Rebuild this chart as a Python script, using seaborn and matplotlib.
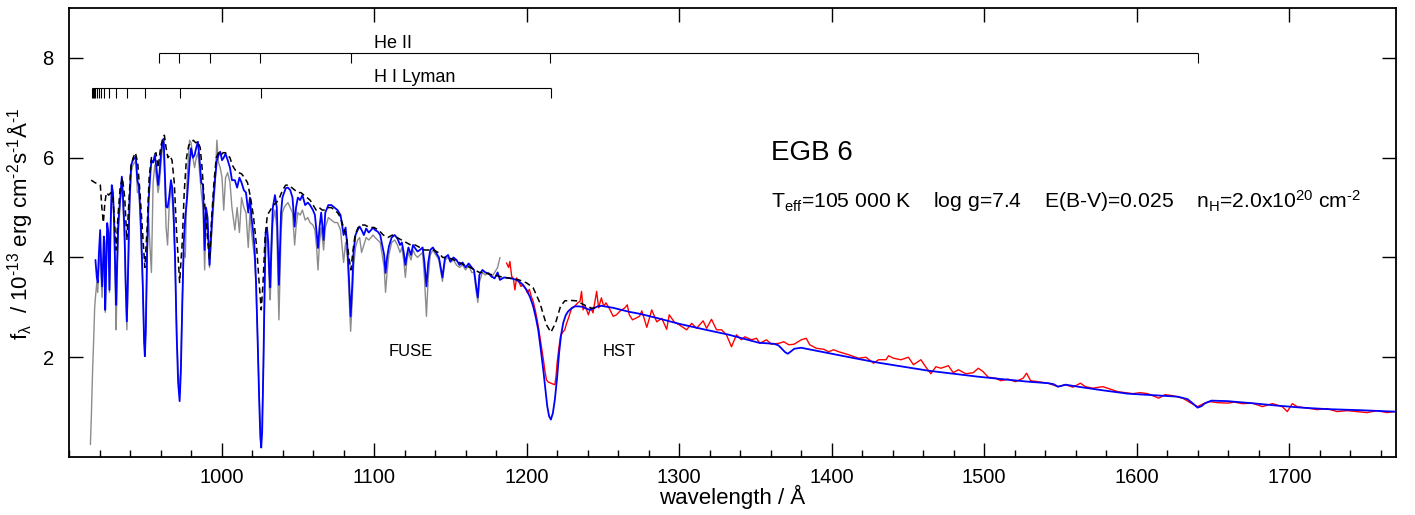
import matplotlib
matplotlib.use("Agg")
import matplotlib.pyplot as plt
import seaborn as sns
from matplotlib.ticker import MultipleLocator

# FUSE range: model (blue) and observation (grey) on one wavelength grid
fuse_wave = [917.3, 918.2, 918.8, 919.6, 920.4, 921.0, 921.7, 922.3, 922.8, 923.2,
             923.7, 924.3, 925.0, 925.8, 926.5, 927.2, 928.0, 928.8, 929.5, 930.4,
             930.9, 931.5, 932.3, 933.0, 933.8, 934.6, 935.4, 936.3, 937.2, 937.9,
             938.6, 939.6, 940.7, 941.8, 942.9, 943.8, 944.8, 945.8, 946.6, 947.4,
             948.3, 949.2, 949.7, 950.3, 951.2, 952.2, 953.1, 954.0, 955.1, 956.2,
             957.3, 958.4, 959.3, 960.3, 961.2, 962.0, 962.8, 963.6, 964.6, 965.6,
             966.8, 967.6, 968.5, 969.5, 970.5, 971.5, 972.5, 973.3, 974.2, 975.2,
             976.2, 977.4, 979.0, 980.0, 981.2, 982.3, 983.4, 984.5, 985.6, 986.7,
             987.8, 988.9, 989.8, 990.8, 991.5, 992.1, 992.9, 993.8, 994.7, 995.8,
             996.9, 998.0, 999.1, 1000.3, 1001.4, 1002.6, 1004.0, 1005.5, 1006.8, 1008.7,
             1010.2, 1011.7, 1013.1, 1014.6, 1016.0, 1017.5, 1018.6, 1019.6, 1020.6, 1021.6,
             1022.6, 1023.6, 1024.6, 1025.4, 1026.0, 1026.6, 1027.4, 1028.2, 1028.9, 1029.8,
             1030.6, 1031.3, 1031.9, 1032.6, 1033.6, 1035.0, 1036.2, 1036.9, 1037.6, 1038.3,
             1039.0, 1039.9, 1041.0, 1042.1, 1043.5, 1045.0, 1046.5, 1047.9, 1048.8, 1050.0,
             1051.5, 1053.0, 1054.8, 1056.5, 1058.0, 1059.9, 1061.2, 1062.3, 1063.2, 1064.2,
             1065.3, 1066.9, 1068.0, 1070.0, 1072.0, 1074.0, 1076.0, 1078.0, 1080.0, 1081.3,
             1082.5, 1083.5, 1084.6, 1085.6, 1086.5, 1087.8, 1089.2, 1090.5, 1091.8, 1093.3,
             1094.8, 1096.5, 1098.0, 1099.3, 1100.6, 1102.3, 1104.0, 1105.6, 1106.6, 1107.5,
             1108.5, 1109.7, 1111.5, 1113.5, 1115.3, 1117.0, 1118.2, 1119.4, 1120.5, 1121.5,
             1122.5, 1124.2, 1125.5, 1127.0, 1128.5, 1130.0, 1131.8, 1133.0, 1134.3, 1135.5,
             1136.8, 1138.5, 1140.5, 1142.5, 1144.8, 1146.5, 1148.5, 1150.0, 1152.0, 1154.0,
             1156.0, 1158.0, 1160.0, 1162.0, 1164.0, 1165.5, 1167.0, 1168.0, 1169.0, 1171.0,
             1173.0, 1175.0, 1177.0, 1179.0, 1181.0, 1182.5]

fuse_model = [3.95, 3.6, 3.5, 4.1, 4.55, 3.9, 3.42, 3.9, 4.42, 4.3,
              2.95, 3.7, 4.69, 4.5, 3.35, 4.6, 5.45, 5.3, 4.8, 3.6,
              3.05, 3.9, 4.7, 4.99, 5.3, 5.62, 5.2, 4.6, 3.4, 2.72,
              3.6, 5.1, 5.85, 5.95, 5.99, 6.02, 5.55, 5.42, 5.0, 4.42,
              3.5, 2.3, 2.02, 2.5, 4.2, 5.15, 5.6, 5.95, 5.9, 6.05,
              5.8, 5.45, 5.7, 6.1, 6.3, 6.38, 5.7, 5.02, 5.0, 5.2,
              5.55, 5.4, 4.95, 4.0, 2.5, 1.5, 1.12, 1.7, 3.0, 4.3,
              4.82, 5.2, 5.89, 6.19, 6.0, 6.05, 6.2, 6.32, 5.95, 5.5,
              5.45, 4.15, 5.0, 4.8, 4.3, 3.85, 4.3, 4.8, 5.2, 5.6,
              5.95, 6.05, 6.12, 5.95, 6.0, 6.08, 5.95, 5.8, 5.55, 5.55,
              5.4, 5.6, 5.5, 5.35, 5.3, 4.9, 5.2, 4.8, 4.55, 4.2,
              3.5, 2.4, 1.2, 0.4, 0.19, 0.5, 1.8, 3.4, 4.5, 4.6,
              4.3, 3.7, 3.4, 4.2, 5.0, 5.25, 5.0, 4.2, 3.45, 4.2,
              4.9, 5.2, 5.3, 5.39, 5.4, 5.35, 5.2, 4.62, 5.0, 5.2,
              5.15, 5.25, 5.05, 5.1, 5.05, 4.95, 4.85, 4.5, 4.19, 4.6,
              4.9, 4.35, 4.9, 5.05, 5.05, 5.0, 4.95, 4.85, 4.45, 4.6,
              4.2, 3.6, 2.82, 3.4, 4.1, 4.45, 4.55, 4.62, 4.55, 4.45,
              4.58, 4.5, 4.55, 4.6, 4.55, 4.52, 4.45, 4.2, 4.05, 3.69,
              4.0, 4.22, 4.4, 4.45, 4.38, 4.25, 4.3, 4.1, 3.85, 4.05,
              4.2, 4.05, 4.25, 4.18, 4.12, 4.15, 4.2, 3.9, 3.42, 3.9,
              4.15, 4.2, 4.1, 4.0, 3.6, 4.0, 4.05, 3.92, 4.0, 3.95,
              3.85, 3.9, 3.8, 3.88, 3.8, 3.75, 3.4, 3.2, 3.65, 3.75,
              3.7, 3.68, 3.62, 3.58, 3.7, 3.55]

fuse_obs = [3.2, 3.5, 3.3, 3.8, 4.3, 3.6, 3.2, 3.7, 4.2, 4.1,
            2.9, 3.6, 4.5, 4.4, 3.3, 4.5, 5.3, 5.2, 4.6, 3.2,
            2.55, 3.6, 4.5, 4.8, 5.2, 5.5, 5.0, 4.4, 3.2, 2.55,
            3.4, 4.9, 5.7, 5.85, 5.9, 5.95, 5.3, 5.35, 4.8, 4.1,
            3.4, 2.4, 2.2, 2.6, 4.0, 4.8, 4.2, 3.7, 5.5, 5.85,
            5.6, 5.3, 5.5, 5.9, 6.2, 6.3, 5.5, 4.6, 4.25, 5.0,
            5.4, 5.2, 4.7, 3.9, 2.6, 1.7, 1.3, 1.9, 3.1, 4.1,
            4.0, 5.6, 6.35, 6.3, 6.0, 5.8, 6.0, 6.1, 5.7, 5.3,
            5.0, 3.75, 4.8, 4.6, 4.2, 3.8, 4.2, 4.6, 5.0, 5.5,
            6.35, 5.9, 5.8, 5.6, 4.95, 5.6, 5.7, 5.5, 5.0, 4.55,
            5.0, 4.5, 5.2, 5.0, 4.9, 4.2, 4.9, 4.5, 4.25, 4.0,
            3.4, 2.4, 1.3, 0.6, 0.4, 0.7, 1.8, 3.2, 4.3, 4.4,
            4.0, 3.4, 3.15, 3.9, 4.7, 4.95, 4.6, 3.6, 2.75, 3.6,
            4.5, 4.9, 5.0, 5.05, 5.1, 5.0, 4.9, 4.25, 4.6, 4.9,
            4.85, 4.95, 4.75, 4.8, 4.7, 4.65, 4.55, 4.2, 3.75, 4.3,
            4.6, 4.15, 4.6, 4.8, 4.75, 4.7, 4.7, 4.55, 3.9, 4.3,
            4.0, 3.3, 2.52, 3.1, 3.8, 4.2, 4.35, 4.4, 4.1, 4.25,
            4.4, 4.35, 4.4, 4.45, 4.4, 4.35, 4.3, 4.0, 3.8, 3.3,
            3.7, 4.05, 4.3, 4.35, 4.25, 4.1, 4.2, 3.95, 3.6, 3.95,
            4.1, 3.95, 4.15, 4.05, 4.0, 4.05, 4.1, 3.6, 2.82, 3.6,
            4.05, 4.15, 4.05, 3.95, 3.52, 3.95, 4.0, 3.9, 3.95, 3.85,
            3.8, 3.85, 3.75, 3.85, 3.7, 3.7, 3.3, 3.1, 3.5, 3.7,
            3.65, 3.7, 3.6, 3.7, 3.8, 4.0]

# steep blue edge of the FUSE observation
obs_edge_wave = [914.0, 914.6, 915.4, 916.2, 916.8]
obs_edge_flux = [0.25, 0.8, 1.7, 2.4, 3.0]

# model without interstellar absorption (dashed)
clean_wave = [914.5, 917.0, 920.5, 921.5, 922.5, 923.5, 924.5, 926.0, 927.5, 928.8,
              930.0, 930.9, 932.0, 933.5, 935.0, 936.5, 937.9, 939.2, 940.5, 942.0,
              943.5, 945.0, 946.5, 948.0, 949.7, 951.2, 952.5, 954.0, 955.5, 957.0,
              958.4, 960.0, 961.5, 962.5, 963.6, 964.8, 966.0, 967.5, 969.0, 970.5,
              972.5, 974.2, 975.5, 977.0, 978.5, 980.0, 981.5, 983.0, 984.5, 986.0,
              987.2, 988.5, 989.8, 991.0, 992.1, 993.5, 995.0, 996.5, 998.0, 999.5,
              1001.0, 1002.5, 1004.0, 1005.5, 1007.0, 1009.0, 1011.0, 1013.0, 1015.0, 1017.0,
              1019.0, 1021.0, 1023.0, 1024.6, 1026.0, 1027.2, 1028.5, 1030.0, 1032.0, 1034.0,
              1036.0, 1038.0, 1040.0, 1042.0, 1044.0, 1046.0, 1048.0, 1050.0, 1052.0, 1054.0,
              1056.0, 1058.0, 1060.0, 1062.0, 1064.0, 1066.0, 1068.0, 1070.0, 1072.0, 1074.0,
              1076.0, 1078.0, 1080.0, 1082.0, 1083.5, 1084.8, 1086.0, 1087.5, 1089.5, 1091.5,
              1094.0, 1097.0, 1100.0, 1103.0, 1106.0, 1109.0, 1112.0, 1115.0, 1118.0, 1121.0,
              1124.0, 1127.0, 1130.0, 1133.0, 1136.0, 1139.0, 1142.0, 1145.0, 1148.0, 1151.0,
              1154.0, 1157.0, 1160.0, 1163.0, 1166.0, 1169.0, 1172.0, 1175.0, 1178.0, 1181.0,
              1185.0, 1190.0, 1195.0, 1200.0, 1204.3, 1208.7, 1211.0, 1213.0, 1215.9, 1219.0,
              1222.2, 1225.0, 1229.0, 1232.7, 1237.0, 1242.6, 1248.0]
clean_flux = [5.55, 5.5, 5.45, 5.0, 4.7, 5.1, 5.3, 5.25, 5.3, 5.2,
              4.6, 4.15, 4.8, 5.4, 5.6, 5.2, 4.35, 5.1, 5.8, 6.0,
              6.1, 5.9, 5.3, 4.6, 3.8, 4.6, 5.6, 6.0, 6.05, 6.1,
              5.8, 6.2, 6.4, 6.45, 6.2, 6.0, 6.05, 5.95, 5.5, 4.5,
              3.5, 4.3, 5.3, 6.0, 6.25, 6.3, 6.35, 6.3, 6.32, 6.2,
              5.8, 5.2, 4.8, 4.3, 3.95, 4.8, 5.5, 6.0, 6.1, 6.05,
              6.1, 6.1, 6.05, 6.0, 5.85, 5.75, 5.7, 5.68, 5.6, 5.5,
              5.2, 4.8, 4.2, 3.5, 2.95, 3.5, 4.4, 4.85, 4.95, 5.05,
              5.1, 5.2, 5.35, 5.45, 5.45, 5.4, 5.35, 5.3, 5.3, 5.25,
              5.2, 5.15, 5.05, 4.95, 5.0, 4.95, 4.95, 5.0, 5.0, 4.95,
              4.9, 4.8, 4.6, 4.4, 4.0, 3.75, 4.1, 4.45, 4.6, 4.65,
              4.65, 4.6, 4.6, 4.55, 4.45, 4.4, 4.45, 4.4, 4.35, 4.3,
              4.25, 4.25, 4.2, 4.15, 4.15, 4.15, 4.1, 4.0, 4.0, 3.97,
              3.93, 3.88, 3.83, 3.8, 3.75, 3.7, 3.7, 3.67, 3.65, 3.63,
              3.6, 3.58, 3.55, 3.49, 3.39, 3.09, 2.85, 2.65, 2.5, 2.69,
              3.02, 3.13, 3.14, 3.13, 3.06, 2.98, 3.02]

# HST range: model (blue)
hst_wave = [1185.2, 1190.0, 1193.4, 1197.0, 1200.0, 1202.3, 1204.3, 1206.0, 1207.6, 1209.3,
            1210.9, 1212.3, 1213.5, 1214.7, 1215.9, 1217.2, 1218.5, 1220.0, 1221.3, 1222.6,
            1224.0, 1225.6, 1227.2, 1229.5, 1231.6, 1234.0, 1237.0, 1239.5, 1241.5, 1244.0,
            1246.5, 1249.1, 1253.0, 1256.8, 1262.0, 1267.3, 1274.3, 1285.0, 1300.0, 1316.0,
            1332.7, 1345.0, 1352.3, 1362.0, 1365.0, 1367.0, 1369.5, 1371.2, 1373.0, 1375.5,
            1380.0, 1390.0, 1398.0, 1415.0, 1430.7, 1447.0, 1463.4, 1480.0, 1496.0, 1512.0,
            1528.8, 1541.8, 1545.5, 1548.4, 1551.0, 1553.3, 1561.4, 1577.0, 1594.1, 1610.0,
            1626.8, 1633.3, 1636.5, 1639.9, 1642.5, 1644.8, 1649.0, 1659.5, 1675.0, 1692.2,
            1708.0, 1724.8, 1745.0, 1769.0]
hst_model = [3.6, 3.58, 3.55, 3.47, 3.35, 3.2, 3.02, 2.8, 2.55, 2.15,
             1.75, 1.35, 1.02, 0.82, 0.75, 0.88, 1.15, 1.6, 2.09, 2.45,
             2.69, 2.84, 2.92, 2.98, 3.02, 3.02, 3.01, 2.97, 2.95, 2.98,
             3.02, 3.03, 3.01, 2.99, 2.95, 2.91, 2.87, 2.79, 2.67, 2.56,
             2.45, 2.35, 2.29, 2.27, 2.24, 2.18, 2.1, 2.07, 2.11, 2.17,
             2.19, 2.13, 2.08, 1.98, 1.89, 1.81, 1.73, 1.67, 1.61, 1.56,
             1.51, 1.48, 1.46, 1.41, 1.43, 1.45, 1.41, 1.34, 1.27, 1.24,
             1.21, 1.16, 1.08, 0.99, 1.02, 1.08, 1.13, 1.12, 1.08, 1.03,
             0.99, 0.96, 0.94, 0.91]

# HST observation (red)
hst_obs_wave = [1186.8, 1188.2, 1189.0, 1190.2, 1191.3, 1192.3, 1193.4, 1194.8, 1196.3, 1197.8,
                1199.2, 1200.5, 1201.8, 1203.0, 1204.3, 1205.6, 1206.9, 1208.0, 1209.0, 1210.0,
                1211.0, 1212.0, 1213.0, 1214.2, 1215.2, 1216.6, 1218.5, 1219.3, 1220.0, 1221.0,
                1222.2, 1223.6, 1225.0, 1226.2, 1227.5, 1229.5, 1231.5, 1233.5, 1235.0, 1236.0,
                1237.0, 1238.5, 1240.5, 1242.0, 1243.5, 1245.9, 1247.2, 1249.0, 1250.5, 1252.0,
                1254.0, 1256.8, 1258.9, 1261.0, 1264.4, 1266.0, 1267.3, 1269.4, 1272.0, 1274.0,
                1275.5, 1278.8, 1282.0, 1285.3, 1288.6, 1291.8, 1293.5, 1296.7, 1300.0, 1304.9,
                1308.2, 1311.4, 1315.7, 1318.0, 1321.2, 1324.5, 1327.8, 1331.0, 1334.3, 1337.6,
                1340.8, 1343.1, 1347.4, 1350.7, 1352.9, 1357.2, 1360.5, 1365.4, 1368.6, 1371.9,
                1375.2, 1380.1, 1383.3, 1385.6, 1389.9, 1394.8, 1398.0, 1401.3, 1404.6, 1411.1,
                1417.6, 1422.5, 1427.5, 1430.7, 1435.6, 1437.3, 1440.5, 1445.4, 1450.3, 1453.6,
                1458.5, 1461.8, 1465.0, 1468.3, 1471.6, 1476.5, 1479.7, 1483.0, 1487.9, 1492.8,
                1496.1, 1499.3, 1502.6, 1507.5, 1510.8, 1515.7, 1520.6, 1525.5, 1527.8, 1530.4,
                1535.3, 1541.8, 1548.4, 1553.3, 1558.2, 1563.1, 1566.3, 1571.2, 1577.8, 1582.7,
                1587.6, 1592.5, 1597.4, 1602.3, 1607.2, 1612.1, 1614.4, 1618.6, 1623.5, 1630.1,
                1635.0, 1639.9, 1643.8, 1648.0, 1652.9, 1659.5, 1664.0, 1669.3, 1675.8, 1682.4,
                1688.9, 1695.4, 1698.7, 1702.0, 1705.2, 1711.8, 1718.3, 1724.8, 1731.4, 1737.9,
                1744.4, 1751.0, 1757.5, 1764.0, 1769.0]
hst_obs = [3.89, 3.8, 3.92, 3.62, 3.58, 3.35, 3.59, 3.52, 3.42, 3.45,
           3.38, 3.29, 3.36, 3.22, 3.12, 2.95, 2.75, 2.55, 2.35, 2.15,
           1.95, 1.72, 1.55, 1.5, 1.49, 1.47, 1.45, 1.62, 1.89, 2.15,
           2.42, 2.5, 2.55, 2.68, 2.79, 2.99, 3.02, 3.09, 3.12, 3.32,
           2.95, 3.02, 2.85, 3.0, 2.89, 3.32, 2.99, 3.19, 3.02, 3.09,
           2.99, 2.82, 2.85, 2.92, 2.99, 3.05, 2.85, 2.75, 2.79, 2.82,
           2.93, 2.6, 2.95, 2.71, 2.78, 2.56, 2.85, 2.71, 2.65, 2.55,
           2.68, 2.58, 2.73, 2.58, 2.76, 2.55, 2.55, 2.45, 2.21, 2.45,
           2.35, 2.41, 2.35, 2.38, 2.28, 2.35, 2.26, 2.28, 2.31, 2.25,
           2.26, 2.35, 2.38, 2.25, 2.18, 2.16, 2.11, 2.15, 2.11, 2.05,
           1.98, 2.0, 1.88, 1.95, 1.95, 2.03, 1.98, 1.95, 2.0, 1.85,
           1.95, 1.8, 1.67, 1.81, 1.78, 1.83, 1.69, 1.75, 1.67, 1.69,
           1.78, 1.71, 1.6, 1.58, 1.53, 1.56, 1.51, 1.58, 1.68, 1.53,
           1.51, 1.48, 1.41, 1.45, 1.4, 1.48, 1.41, 1.38, 1.41, 1.36,
           1.31, 1.29, 1.27, 1.29, 1.27, 1.21, 1.18, 1.25, 1.23, 1.18,
           1.09, 1.01, 1.07, 1.11, 1.09, 1.08, 1.1, 1.07, 1.08, 1.01,
           1.07, 1.01, 0.91, 1.07, 1.01, 0.98, 0.95, 0.97, 0.91, 0.93,
           0.91, 0.89, 0.93, 0.89, 0.91]

# line identifications
he2_lines = [958.7, 972.1, 992.4, 1025.3, 1084.9, 1215.1, 1640.4]
lyman_lines = [1215.67, 1025.72, 972.54, 949.74, 937.80, 930.75, 926.23, 923.15,
               920.96, 919.35, 918.13, 917.18, 916.43, 915.82, 915.33]

sns.set_style("ticks")
plt.rcParams["font.family"] = ["Liberation Sans", "DejaVu Sans"]
plt.rcParams["mathtext.default"] = "regular"
plt.rcParams["text.color"] = "black"
plt.rcParams["axes.labelcolor"] = "black"

fig = plt.figure(figsize=(14.15, 5.15), dpi=100)
ax = fig.add_axes([0.0488, 0.1126, 0.9378, 0.8718])

sns.lineplot(x=obs_edge_wave + fuse_wave, y=obs_edge_flux + fuse_obs, ax=ax,
             color="#8c8c8c", linewidth=1.0, sort=False, estimator=None)
sns.lineplot(x=hst_obs_wave, y=hst_obs, ax=ax, color="red", linewidth=1.0,
             sort=False, estimator=None)
sns.lineplot(x=fuse_wave + hst_wave, y=fuse_model + hst_model, ax=ax, color="blue",
             linewidth=1.3, sort=False, estimator=None)
sns.lineplot(x=clean_wave, y=clean_flux, ax=ax, color="black", linewidth=1.1,
             linestyle=(0, (4, 2.5)), sort=False, estimator=None)

# line id brackets
he2_y, lyman_y, drop = 8.09, 7.39, 0.2
ax.hlines(he2_y, min(he2_lines), max(he2_lines), color="black", lw=0.8)
ax.vlines(he2_lines, he2_y - drop, he2_y, color="black", lw=0.8)
ax.hlines(lyman_y, min(lyman_lines), max(lyman_lines), color="black", lw=0.8)
ax.vlines(lyman_lines, lyman_y - drop, lyman_y, color="black", lw=0.8)
ax.text(1100, he2_y + 0.2, "He II", fontsize=13, ha="left", va="center")
ax.text(1100, lyman_y + 0.22, "H I Lyman", fontsize=13, ha="left", va="center")

hy = "\u2010"  # short hyphen, like the original superscripts
ax.text(1360, 5.95, "EGB 6", fontsize=20, ha="left", va="baseline")
ax.text(1360, 5.0,
        "T$_{eff}$=105 000 K    log g=7.4    E(B-V)=0.025    n$_H$=2.0x10$^{20}$ cm$^{" + hy + "2}$",
        fontsize=15.2, ha="left", va="baseline")
ax.text(1124, 2.11, "FUSE", fontsize=12, ha="center", va="center")
ax.text(1260.5, 2.11, "HST", fontsize=12, ha="center", va="center")

ax.set_xlim(900, 1770)
ax.set_ylim(0, 9)
ax.set_xticks(range(1000, 1800, 100))
ax.xaxis.set_minor_locator(MultipleLocator(20))
ax.set_yticks([2, 4, 6, 8])
ax.tick_params(which="major", direction="in", length=10, width=1, top=True, right=True,
               labelsize=14.5, colors="black")
ax.tick_params(axis="x", which="major", pad=8)
ax.tick_params(axis="y", which="major", pad=11)
ax.tick_params(which="minor", direction="in", length=5, width=1, top=False, right=False,
               colors="black")
for s in ax.spines.values():
    s.set_linewidth(1.3)
    s.set_color("black")

ax.set_xlabel("wavelength / Å", fontsize=16)
ax.set_ylabel("f$_{λ}$  / 10$^{" + hy + "13}$ erg cm$^{" + hy + "2}$s$^{" + hy + "1}$Å$^{" + hy + "1}$",
              fontsize=16)
ax.xaxis.set_label_coords(0.5, -0.062)
ax.yaxis.set_label_coords(-0.026, 0.52)

fig.savefig("out.png", dpi=100)
